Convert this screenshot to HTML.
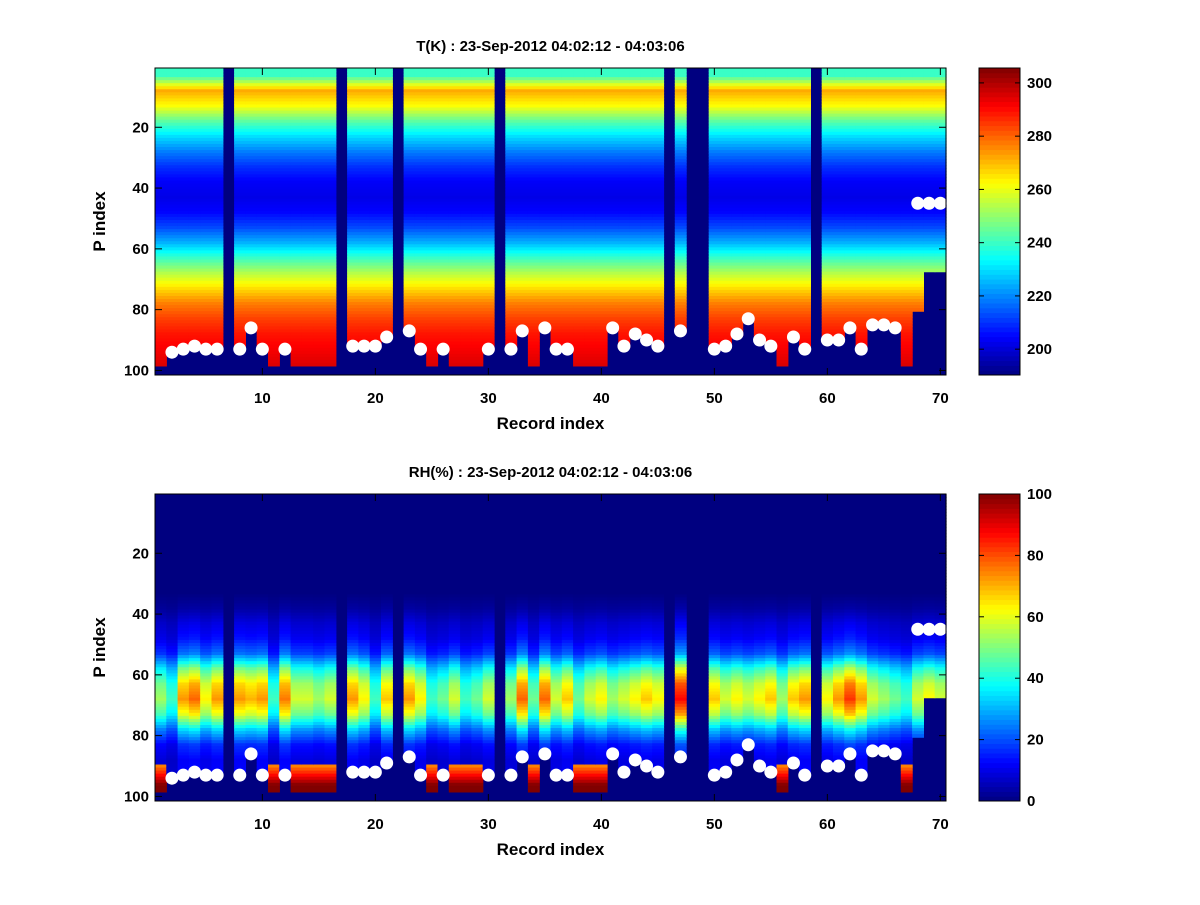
<!DOCTYPE html>
<html><head><meta charset="utf-8"><style>
body{margin:0;background:#fff;}
svg text{font-family:"Liberation Sans",sans-serif;font-weight:bold;fill:#000;}
</style></head><body>
<svg id="fig" width="1200" height="900" viewBox="0 0 1200 900"></svg>
<script>
const records = Array.from({length:70},(_,i)=>i+1);
const missing = [7,17,22,31,46,48,49,59];
const dotP = [null,94,93,92,93,93,null,93,86,93,null,93,null,null,null,null,null,92,92,92,89,null,87,93,null,93,null,null,null,93,null,93,87,null,86,93,93,null,null,null,86,92,88,90,92,null,87,null,null,93,92,88,83,90,92,null,89,93,null,90,90,86,93,85,85,86,null,45,45,45];
const cutP = [98,94,93,92,93,93,0,93,86,93,98,93,98,98,98,98,0,92,92,92,89,0,87,93,98,93,98,98,98,93,0,93,87,98,86,93,93,98,98,98,86,92,88,90,92,0,87,0,0,93,92,88,83,90,92,98,89,93,0,90,90,86,93,85,85,86,98,80,67,67];
// T profile knots at P = 3,8,...,98
const tProfile = [240,272,262,244,230,219,210,204,202,205,213,225,240,254,266,277,284,289,292,295];
// RH profile knots (normalised to peak 70)
const rhProfile = [0,0,0,0,0,0,0,3,9,13,22,46,62,68,56,32,16,11,12,30];
const rhPeak = [55,45,75,80,65,75,0,75,72,75,45,78,60,60,55,60,0,75,65,45,70,0,75,65,45,50,60,45,50,60,0,55,80,50,80,60,70,50,60,65,55,60,65,70,65,0,90,0,0,70,60,65,60,65,70,55,70,75,0,65,75,85,75,60,55,50,45,60,65,60];
const tTicks=[200,220,240,260,280,300], rhTicks=[0,20,40,60,80,100];
const xTicks=[10,20,30,40,50,60,70], yTicks=[20,40,60,80,100];

const NS='http://www.w3.org/2000/svg', svg=document.getElementById('fig');
function mk(tag,attrs,parent){const e=document.createElementNS(NS,tag);for(const k in attrs)e.setAttribute(k,attrs[k]);(parent||svg).appendChild(e);return e;}
function jet(t){t=Math.max(0,Math.min(1,t));const f=x=>Math.round(255*Math.max(0,Math.min(1,x)));
 return `rgb(${f(1.5-Math.abs(4*t-3))},${f(1.5-Math.abs(4*t-2))},${f(1.5-Math.abs(4*t-1))})`;}
function prof(arr,p){const pos=(p-3)/5;const i=Math.max(0,Math.min(arr.length-1,Math.floor(pos)));const j=Math.min(arr.length-1,i+1);const f=Math.max(0,Math.min(1,pos-i));return arr[i]*(1-f)+arr[j]*f;}

function panel(y0,title,valFn,vmin,vmax,cTicks,nm){
 const L=155,R=946,T=y0,B=y0+307;
 const xs=r=>L+(r-0.5)*(R-L)/70, ys=p=>T+(p-0.5)*(B-T)/101;
 const g=mk('g',{});  
 mk('rect',{x:L,y:T,width:R-L,height:B-T,fill:jet(0)},g);
 records.forEach((r,i)=>{
  if(missing.includes(r))return;
  for(let p=1;p<=cutP[i];p++){
   const v=valFn(i,p);
   const c=mk('rect',{x:xs(r-0.5),y:ys(p-0.5),width:(R-L)/70+0.6,height:(B-T)/101+0.6,fill:jet((v-vmin)/(vmax-vmin))},g);
   
   
  }
 });
 records.forEach((r,i)=>{ if(dotP[i]!=null){const d=mk('circle',{cx:xs(r),cy:ys(dotP[i]),r:6.5,fill:'#fff'},g);
  
  }});
 mk('rect',{x:L,y:T,width:R-L,height:B-T,fill:'none',stroke:'#000','stroke-width':1},g);
 xTicks.forEach(t=>{const x=xs(t);mk('line',{x1:x,x2:x,y1:B,y2:B-7,stroke:'#000'},g);mk('line',{x1:x,x2:x,y1:T,y2:T+7,stroke:'#000'},g);
  const tx=mk('text',{x:x,y:B+28,'text-anchor':'middle','font-size':15},g);tx.textContent=t;});
 yTicks.forEach(t=>{const y=ys(t);mk('line',{x1:L,x2:L+7,y1:y,y2:y,stroke:'#000'},g);mk('line',{x1:R,x2:R-7,y1:y,y2:y,stroke:'#000'},g);
  const tx=mk('text',{x:L-6,y:y+5,'text-anchor':'end','font-size':15},g);tx.textContent=t;});
 const tt=mk('text',{x:(L+R)/2,y:T-17,'text-anchor':'middle','font-size':15},g);tt.textContent=title;
 
 const xl=mk('text',{x:(L+R)/2,y:B+54,'text-anchor':'middle','font-size':17},g);xl.textContent='Record index';
 
 const yl=mk('text',{x:0,y:0,'text-anchor':'middle','font-size':17,transform:`translate(105,${(T+B)/2}) rotate(-90)`},g);yl.textContent='P index';
 
 const cL=979,cR=1020;const cb=mk('g',{});
 const n=64;for(let k=0;k<n;k++){mk('rect',{x:cL,y:B-(k+1)*(B-T)/n,width:cR-cL,height:(B-T)/n+0.5,fill:jet((k+0.5)/n)},cb);}
 mk('rect',{x:cL,y:T,width:cR-cL,height:B-T,fill:'none',stroke:'#000'},cb);
 const cy=v=>B-(v-vmin)/(vmax-vmin)*(B-T);
 cTicks.forEach(t=>{const y=cy(t);mk('line',{x1:cL,x2:cL+5,y1:y,y2:y,stroke:'#000'},cb);mk('line',{x1:cR,x2:cR-5,y1:y,y2:y,stroke:'#000'},cb);
  const tx=mk('text',{x:cR+7,y:y+5,'font-size':15},cb);tx.textContent=t;});
}
panel(68,'T(K) : 23-Sep-2012 04:02:12 - 04:03:06',(i,p)=>prof(tProfile,p),190.3,305.6,tTicks,'temperature');
panel(494,'RH(%) : 23-Sep-2012 04:02:12 - 04:03:06',(i,p)=>{
 if(dotP[i]==null && cutP[i]>=98 && p>=90) return 75+(p-90)*4;
 return prof(rhProfile,p)*rhPeak[i]/70;},0,100,rhTicks,'humidity');
</script>
</body></html>
